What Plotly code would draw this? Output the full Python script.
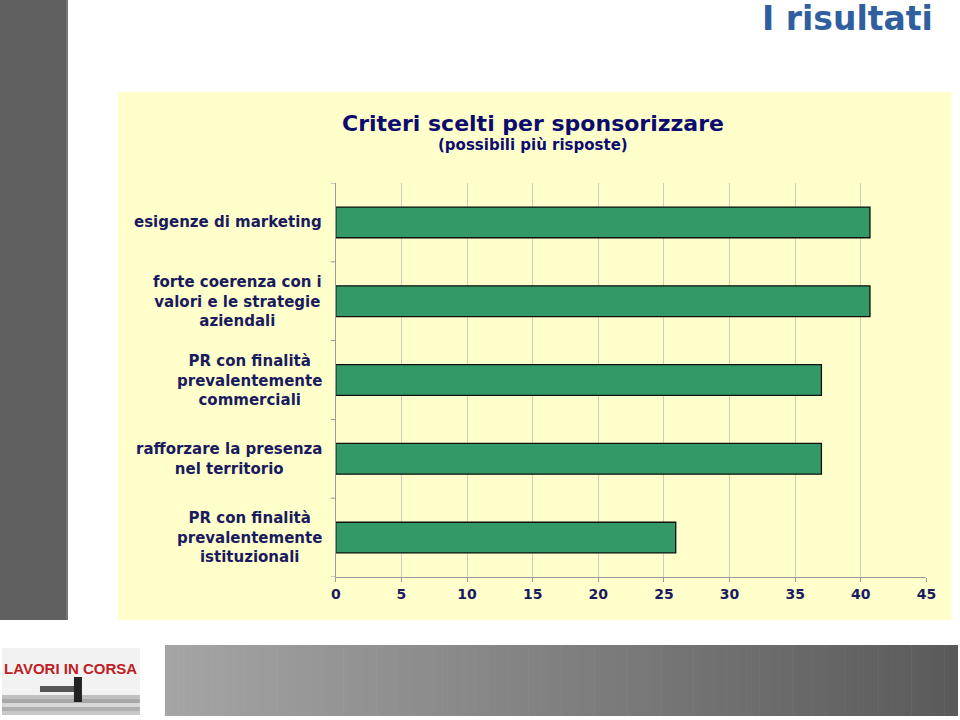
import plotly.graph_objects as go

# ---- data ----
categories = [
    "esigenze di marketing",
    "forte coerenza con i<br>valori e le strategie<br>aziendali",
    "PR con finalità<br>prevalentemente<br>commerciali",
    "rafforzare la presenza<br>nel territorio",
    "PR con finalità<br>prevalentemente<br>istituzionali",
]
values = [40.7, 40.7, 37.0, 37.0, 25.9]
x_ticks = [0, 5, 10, 15, 20, 25, 30, 35, 40, 45]

title_text = "Criteri scelti per sponsorizzare"
subtitle_text = "(possibili più risposte)"
slide_title = "I risultati"
logo_text = "LAVORI IN CORSA"

W, H = 960, 720
def X(px):
    v = (px - 5) / 0.985 / W
    return min(max(v, -0.01), 1.01)
def Y(py): return 1 - py / H

NAVY = "#1a1a5e"
ids = list(range(len(categories)))

fig = go.Figure(go.Bar(
    x=values, y=ids, orientation="h",
    marker=dict(color="#339966", line=dict(color="#111111", width=1.3)),
    hoverinfo="x",
))

shapes = []
# left gray bar
shapes.append(dict(type="rect", xref="paper", yref="paper", x0=X(0), x1=X(68), y0=Y(620), y1=Y(0),
                   fillcolor="#5f5f5f", line=dict(width=0), layer="below"))
shapes.append(dict(type="line", xref="paper", yref="paper", x0=X(67), x1=X(67), y0=Y(620), y1=Y(0),
                   line=dict(color="#8a8a8a", width=1), layer="below"))
# yellow panel
shapes.append(dict(type="rect", xref="paper", yref="paper", x0=X(118), x1=X(952), y0=Y(620), y1=Y(92),
                   fillcolor="#ffffcc", line=dict(width=0), layer="below"))
# bottom gradient bar
n = 120
x0g, x1g = 165, 958
c0, c1 = (165, 165, 165), (90, 90, 90)
for i in range(n):
    t = i / (n - 1)
    c = tuple(int(round(c0[k] + (c1[k] - c0[k]) * t)) for k in range(3))
    a = x0g + (x1g - x0g) * i / n
    b = x0g + (x1g - x0g) * (i + 1) / n + 0.6
    shapes.append(dict(type="rect", xref="paper", yref="paper", x0=X(a), x1=X(b), y0=Y(716), y1=Y(645),
                       fillcolor="rgb(%d,%d,%d)" % c, line=dict(width=0), layer="below"))
# logo approximation
shapes.append(dict(type="rect", xref="paper", yref="paper", x0=X(2), x1=X(140), y0=Y(715), y1=Y(648),
                   fillcolor="#f2f2f2", line=dict(width=0), layer="below"))
for i, col in enumerate(["#c8c8c8", "#b0b0b0", "#d8d8d8", "#a8a8a8", "#c0c0c0"]):
    shapes.append(dict(type="rect", xref="paper", yref="paper", x0=X(2), x1=X(140),
                       y0=Y(715 - i * 4), y1=Y(711 - i * 4),
                       fillcolor=col, line=dict(width=0), layer="below"))
shapes.append(dict(type="rect", xref="paper", yref="paper", x0=X(40), x1=X(80), y0=Y(692), y1=Y(686),
                   fillcolor="#555555", line=dict(width=0), layer="below"))
shapes.append(dict(type="rect", xref="paper", yref="paper", x0=X(74), x1=X(82), y0=Y(702), y1=Y(677),
                   fillcolor="#222222", line=dict(width=0), layer="below"))

annotations = [
    dict(text="<b>" + slide_title + "</b>", x=X(936), y=Y(18), xref="paper", yref="paper",
         xanchor="right", yanchor="middle", showarrow=False,
         font=dict(family="DejaVu Sans", size=33, color="#2f5f9f")),
    dict(text="<b>" + title_text + "</b>", x=X(533), y=Y(123), xref="paper", yref="paper",
         xanchor="center", yanchor="middle", showarrow=False,
         font=dict(family="DejaVu Sans", size=22, color="#0c0c6e")),
    dict(text="<b>" + subtitle_text + "</b>", x=X(533), y=Y(145), xref="paper", yref="paper",
         xanchor="center", yanchor="middle", showarrow=False,
         font=dict(family="DejaVu Sans", size=15, color="#0c0c6e")),
    dict(text="<b>" + logo_text + "</b>", x=X(71), y=Y(668), xref="paper", yref="paper",
         xanchor="center", yanchor="middle", showarrow=False,
         font=dict(family="Liberation Sans", size=15, color="#c0201f")),
]
# category labels: block right-aligned, lines centered
for i, lab in enumerate(categories):
    annotations.append(dict(text=lab, x=X(324), y=i, xref="paper", yref="y",
                            xanchor="right", yanchor="middle", align="center", showarrow=False,
                            font=dict(family="DejaVu Sans", size=15, color=NAVY, weight="bold")))

fig.update_layout(
    width=W, height=H,
    margin=dict(l=0, r=0, t=0, b=0, pad=0),
    paper_bgcolor="white",
    plot_bgcolor="rgba(0,0,0,0)",
    showlegend=False,
    bargap=0.61,
    shapes=shapes,
    annotations=annotations,
    xaxis=dict(
        domain=[X(336), X(927)], range=[0, 45], tickvals=x_ticks,
        showgrid=True, gridcolor="#cfcfb8", gridwidth=1,
        showline=True, linecolor="#9a9a9a", linewidth=1,
        ticks="outside", ticklen=4, tickcolor="#9a9a9a",
        zeroline=False, fixedrange=True,
        tickfont=dict(family="DejaVu Sans", size=14, color=NAVY, weight="bold"),
    ),
    yaxis=dict(
        domain=[Y(577), Y(183)], range=[4.5, -0.5],
        tickvals=ids, showticklabels=False,
        showgrid=False, zeroline=False,
        showline=True, linecolor="#9a9a9a", linewidth=1,
        fixedrange=True,
    ),
)
# boundary tick marks on the category axis
for k in range(len(categories) + 1):
    fig.add_shape(type="line", xref="paper", yref="y", x0=X(331), x1=X(336),
                  y0=k - 0.5, y1=k - 0.5, line=dict(color="#9a9a9a", width=1))

fig.write_html("out.html")
